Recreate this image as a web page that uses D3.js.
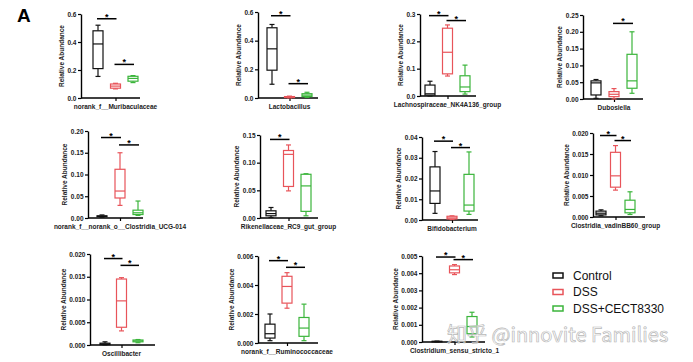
<!DOCTYPE html>
<html>
<head>
<meta charset="utf-8">
<script src="https://cdn.jsdelivr.net/npm/d3@7.9.0/dist/d3.min.js"></script>
<style>
  body { margin: 0; background: #fff; }
  svg { display: block; font-family: Arial, "Liberation Sans", sans-serif; }
</style>
</head>
<body>
<svg id="chart" width="693" height="362"></svg>
<script>
// ---- data ----
const groups = ['Control', 'DSS', 'DSS+CECT8330'];
const taxa = [
  'norank_f__Muribaculaceae', 'Lactobacillus', 'Lachnospiraceae_NK4A136_group', 'Dubosiella',
  'norank_f__norank_o__Clostridia_UCG-014', 'Rikenellaceae_RC9_gut_group', 'Bifidobacterium', 'Clostridia_vadinBB60_group',
  'Oscillibacter', 'norank_f__Ruminococcaceae', 'Clostridium_sensu_stricto_1'
];
const yMax = [0.6, 0.6, 0.3, 0.25, 0.2, 0.15, 0.04, 0.02, 0.02, 0.006, 0.005];
const yStep = [0.2, 0.2, 0.1, 0.05, 0.05, 0.05, 0.01, 0.005, 0.005, 0.002, 0.001];
const yDecimals = [1, 1, 1, 2, 2, 2, 2, 3, 3, 3, 3];

// [min, q1, median, q3, max]
const controlStats = [
  [0.154, 0.21, 0.386, 0.48, 0.52],
  [0.096, 0.194, 0.343, 0.49, 0.513],
  [0.0, 0.003, 0.008, 0.04, 0.054],
  [0.002, 0.012, 0.048, 0.054, 0.058],
  [0.002, 0.003, 0.004, 0.005, 0.007],
  [0.001, 0.004, 0.008, 0.013, 0.019],
  [0.0032, 0.008, 0.014, 0.0256, 0.033],
  [0.0003, 0.0005, 0.0009, 0.0014, 0.0017],
  [0.00005, 0.0001, 0.0002, 0.0004, 0.0007],
  [0.00016, 0.00034, 0.00064, 0.0013, 0.002],
  [0.00001, 0.00002, 0.00003, 0.00004, 0.00005]
];
const dssStats = [
  [0.065, 0.07, 0.085, 0.1, 0.105],
  [0.001, 0.003, 0.006, 0.01, 0.013],
  [0.073, 0.081, 0.16, 0.248, 0.26],
  [0.0, 0.007, 0.014, 0.022, 0.031],
  [0.029, 0.046, 0.062, 0.112, 0.15],
  [0.049, 0.057, 0.115, 0.122, 0.132],
  [0.0002, 0.0005, 0.001, 0.0018, 0.002],
  [0.0064, 0.0071, 0.0098, 0.0154, 0.017],
  [0.0031, 0.0039, 0.0097, 0.0145, 0.0148],
  [0.0024, 0.00275, 0.0039, 0.0046, 0.00485],
  [0.00392, 0.00402, 0.0042, 0.00442, 0.0045]
];
const cectStats = [
  [0.11, 0.12, 0.14, 0.155, 0.16],
  [0.004, 0.01, 0.02, 0.03, 0.04],
  [0.007, 0.016, 0.033, 0.074, 0.113],
  [0.017, 0.032, 0.054, 0.133, 0.2],
  [0.006, 0.008, 0.012, 0.018, 0.039],
  [0.004, 0.012, 0.058, 0.079, 0.08],
  [0.0027, 0.0043, 0.0072, 0.022, 0.0328],
  [0.0006, 0.001, 0.0018, 0.004, 0.006],
  [0.0005, 0.0007, 0.0009, 0.0011, 0.0012],
  [0.00016, 0.00046, 0.00103, 0.00176, 0.00268],
  [0.00029, 0.00048, 0.0009, 0.00148, 0.00173]
];
// [from group, to group, height]
const sigBars = [
  [[0, 1, 0.566], [1, 2, 0.24]],
  [[0, 1, 0.574], [1, 2, 0.1]],
  [[0, 1, 0.294], [1, 2, 0.276]],
  [[1, 2, 0.225]],
  [[0, 1, 0.185], [1, 2, 0.168]],
  [[0, 1, 0.142]],
  [[0, 1, 0.038], [1, 2, 0.0349]],
  [[0, 1, 0.0194], [1, 2, 0.0182]],
  [[0, 1, 0.019], [1, 2, 0.0175]],
  [[0, 1, 0.00568], [1, 2, 0.00522]],
  [[0, 1, 0.00494], [1, 2, 0.00479]]
];

// ---- layout (pixels) ----
// ax: y axis x, top/bottom: y range, c0/c2: first/last box centre, xEnd: x axis end
const layout = [
  { ax: 81, top: 14, bottom: 98, c0: 98, c2: 133, xEnd: 140 },
  { ax: 258, top: 12, bottom: 98, c0: 272, c2: 307, xEnd: 318 },
  { ax: 420, top: 14, bottom: 96, c0: 430, c2: 465, xEnd: 476 },
  { ax: 583, top: 15, bottom: 99, c0: 596, c2: 632, xEnd: 643 },
  { ax: 88, top: 131, bottom: 218, c0: 102, c2: 138, xEnd: 143 },
  { ax: 260, top: 135, bottom: 218, c0: 271, c2: 306, xEnd: 318 },
  { ax: 422, top: 137, bottom: 220, c0: 435, c2: 469, xEnd: 478 },
  { ax: 593, top: 133, bottom: 217, c0: 601, c2: 630, xEnd: 645 },
  { ax: 90, top: 254, bottom: 345, c0: 105, c2: 138, xEnd: 155 },
  { ax: 258, top: 256, bottom: 343, c0: 270, c2: 304, xEnd: 318 },
  { ax: 422, top: 256, bottom: 342, c0: 437, c2: 472, xEnd: 485 }
];

const colors = d3.scaleOrdinal().domain(groups).range(['#111111', '#e8545a', '#3bb53b']);
const svg = d3.select('#chart');
const boxW = 10;
const capW = 5;

svg.append('text')
  .attr('x', 17).attr('y', 22)
  .attr('font-size', 19).attr('font-weight', 'bold')
  .text('A');

taxa.forEach((name, i) => {
  const L = layout[i];
  const stats = [controlStats[i], dssStats[i], cectStats[i]];
  const y = d3.scaleLinear().domain([0, yMax[i]]).range([L.bottom, L.top]);
  const x = d3.scalePoint().domain(groups).range([L.c0, L.c2]);
  const g = svg.append('g');

  // y axis
  const ticks = d3.range(0, yMax[i] + yStep[i] / 2, yStep[i]);
  const yAxis = g.append('g')
    .attr('transform', `translate(${L.ax},0)`)
    .call(d3.axisLeft(y).tickValues(ticks).tickFormat(d3.format(`.${yDecimals[i]}f`))
      .tickSize(3).tickSizeOuter(0).tickPadding(1.5));
  yAxis.select('.domain').attr('stroke-width', 1.4);
  yAxis.selectAll('.tick line').attr('stroke-width', 1.2);
  yAxis.selectAll('.tick text')
    .attr('font-size', 6.5).attr('font-weight', 'bold')
    .attr('font-family', 'Arial, "Liberation Sans", sans-serif').attr('fill', '#222');

  // x axis
  g.append('line')
    .attr('x1', L.ax).attr('x2', L.xEnd)
    .attr('y1', L.bottom).attr('y2', L.bottom)
    .attr('stroke', '#000').attr('stroke-width', 1.4);
  g.append('g')
    .attr('transform', `translate(0,${L.bottom})`)
    .call(d3.axisBottom(x).tickValues(['DSS']).tickFormat('').tickSize(3).tickSizeOuter(0))
    .call(a => a.select('.domain').remove())
    .selectAll('.tick line').attr('stroke-width', 1.2);

  // y label
  const w = yAxis.node().getBBox().width;
  g.append('text')
    .attr('transform', `translate(${L.ax - w - 3},${(L.top + L.bottom) / 2}) rotate(-90)`)
    .attr('text-anchor', 'middle')
    .attr('font-size', 6.5).attr('font-weight', 'bold').attr('fill', '#222')
    .text('Relative Abundance');

  // x label
  g.append('text')
    .attr('x', x('DSS')).attr('y', L.bottom + 11)
    .attr('text-anchor', 'middle')
    .attr('font-size', 6.5).attr('font-weight', 'bold').attr('fill', '#222')
    .text(name);

  // boxes
  groups.forEach((grp, k) => {
    const [mn, q1, md, q3, mx] = stats[k];
    const cx = x(grp);
    const col = colors(grp);
    const bg = g.append('g').attr('stroke', col).attr('stroke-width', 1.2).attr('fill', 'none');
    bg.append('line').attr('x1', cx).attr('x2', cx).attr('y1', y(mx)).attr('y2', y(q3));
    bg.append('line').attr('x1', cx).attr('x2', cx).attr('y1', y(q1)).attr('y2', y(mn));
    bg.append('line').attr('x1', cx - capW / 2).attr('x2', cx + capW / 2).attr('y1', y(mx)).attr('y2', y(mx));
    bg.append('line').attr('x1', cx - capW / 2).attr('x2', cx + capW / 2).attr('y1', y(mn)).attr('y2', y(mn));
    bg.append('rect')
      .attr('x', cx - boxW / 2).attr('width', boxW)
      .attr('y', y(q3)).attr('height', Math.max(0.5, y(q1) - y(q3)))
      .attr('fill', '#fff');
    bg.append('line').attr('x1', cx - boxW / 2).attr('x2', cx + boxW / 2).attr('y1', y(md)).attr('y2', y(md));
  });

  // significance
  sigBars[i].forEach(([a, b, v]) => {
    const x1 = x(groups[a]) - 1;
    const x2 = x(groups[b]) + 1;
    g.append('line')
      .attr('x1', x1).attr('x2', x2).attr('y1', y(v)).attr('y2', y(v))
      .attr('stroke', '#000').attr('stroke-width', 1.5);
    g.append('text')
      .attr('x', (x1 + x2) / 2).attr('y', y(v) + 1)
      .attr('text-anchor', 'middle')
      .attr('font-size', 9).attr('font-weight', 'bold')
      .text('*');
  });
});

// legend
const legend = svg.append('g').attr('transform', 'translate(553,270)');
groups.forEach((grp, k) => {
  const row = legend.append('g').attr('transform', `translate(0,${k * 16.5})`);
  row.append('rect')
    .attr('x', 0).attr('y', 3).attr('width', 10).attr('height', 5)
    .attr('fill', '#fff').attr('stroke', colors(grp)).attr('stroke-width', 1.5);
  row.append('text')
    .attr('x', 20).attr('y', 9.5)
    .attr('font-size', 12).attr('fill', '#111')
    .text(grp);
});

// watermark
svg.append('text')
  .attr('x', 447).attr('y', 342)
  .attr('font-size', 20)
  .attr('font-family', '"Noto Sans CJK SC", "Noto Sans", sans-serif')
  .attr('fill', '#ffffff').attr('fill-opacity', 0.55)
  .attr('stroke', '#b8b8b8').attr('stroke-width', 0.7)
  .text('知乎 @innovite Families');
</script>
</body>
</html>
